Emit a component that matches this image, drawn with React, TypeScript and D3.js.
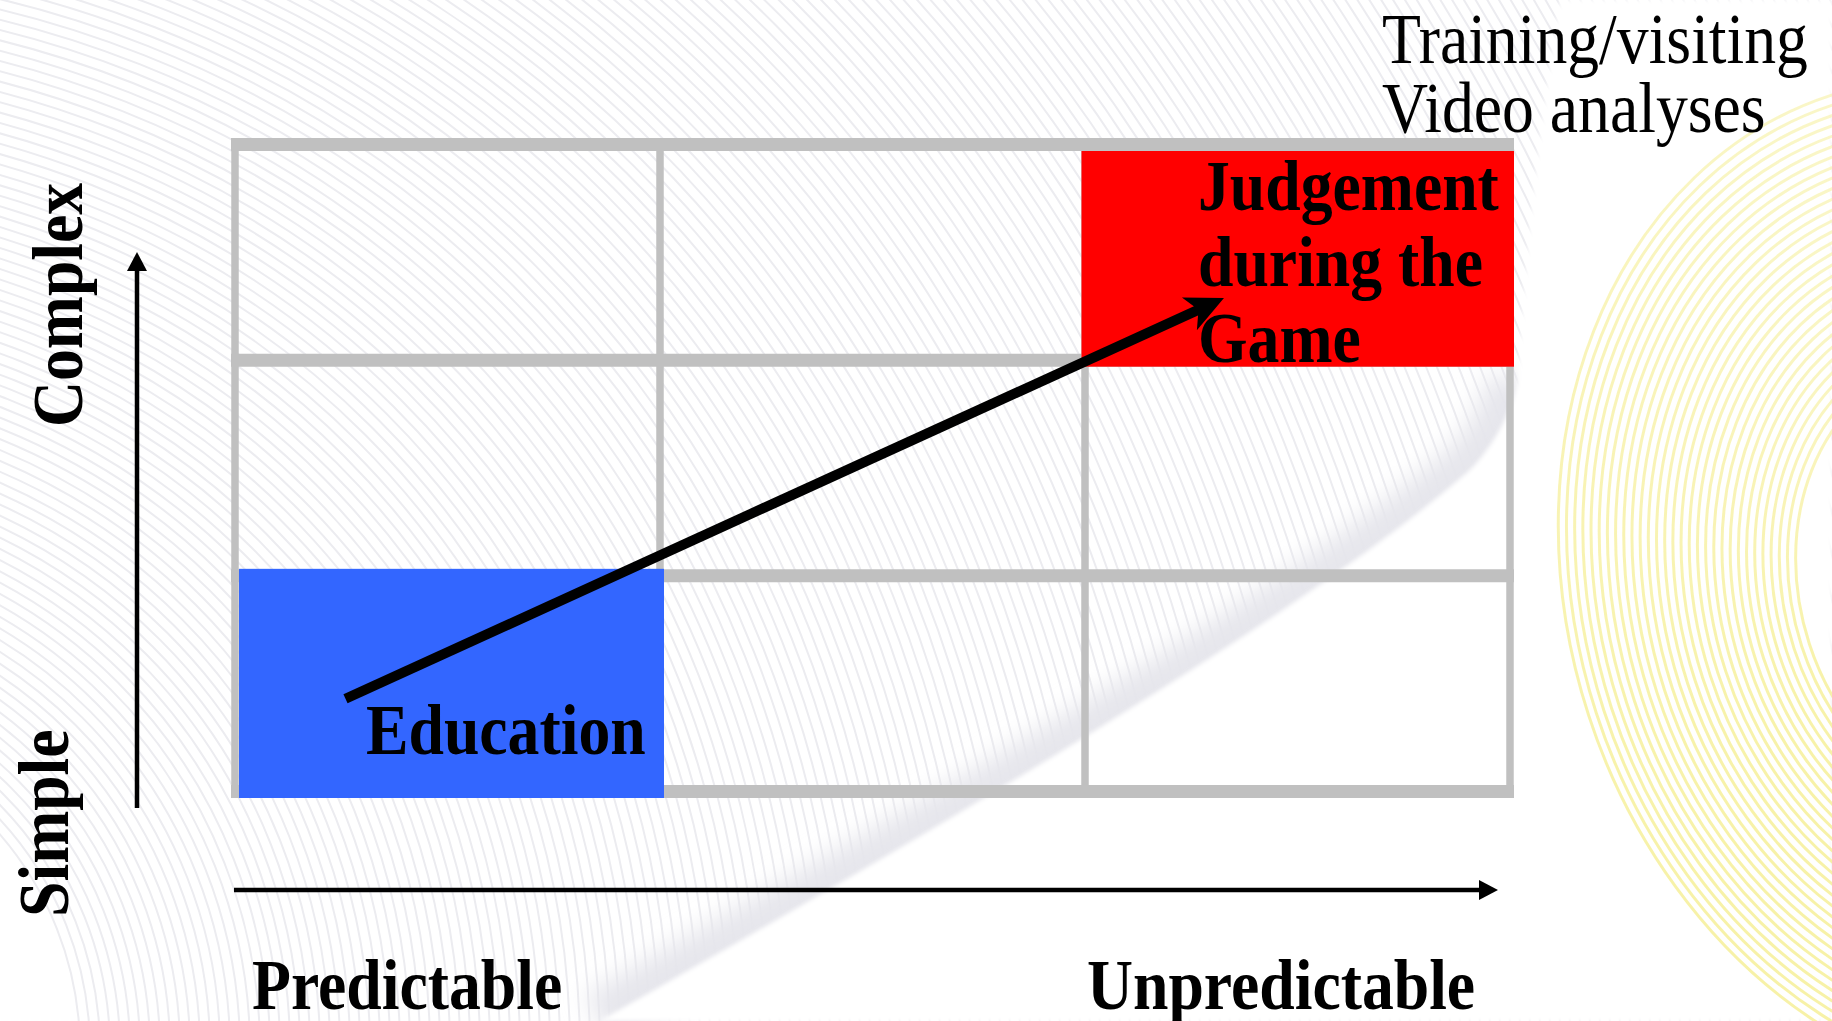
import React from "react";
import * as d3 from "d3";

const W = 1832;
const H = 1021;

// 3 x 3 matrix: predictability (columns) against complexity (rows)
const columnBounds = [0, 1, 2, 3];
const rowBounds = [0, 1, 2, 3];

const predictabilityLabels = ["Predictable", "Unpredictable"];
const complexityLabels = ["Simple", "Complex"];
const methodLabels = ["Training/visiting", "Video analyses"];

// highlighted cells (column index, row index counted from the bottom)
const highlightCols = [0, 2];
const highlightRows = [0, 2];
const highlightFills = ["#3366ff", "#ff0000"];
const educationLines = ["Education"];
const judgementLines = ["Judgement", "during the", "Game"];

// development path through the matrix, in cell units
const pathFrom = [0.26, 0.43];
const pathTo = [2.327, 2.288];

const FONT = "'Times New Roman', 'Liberation Serif', serif";
const SQUEEZE = 0.885;
const GRID = "#c0c0c0";

export default function App() {
  const x = d3.scaleLinear().domain([0, 3]).range([235, 1510]);
  const y = d3.scaleLinear().domain([0, 3]).range([791.5, 144.5]);

  // decorative background rings
  const greyRings = d3.range(330, 2400, 10);
  const yellowRings = d3.range(190, 430, 8);

  const swoosh = "M 600 1021 C 900 850, 1300 620, 1470 470 C 1495 445, 1512 410, 1518 380";
  const edge = `${swoosh} C 1525 250, 1540 120, 1560 0`;

  const cellRect = (c: number, r: number) => {
    const left = c === 0 ? x(0) + 4 : x(c) - 3.5;
    const right = x(c + 1) + 4;
    const top = r + 1 === 3 ? y(3) + 6.5 : y(r + 1) - 7;
    const bottom = y(r) + 6.5;
    return { left, right, top, bottom };
  };

  const [sx, sy] = [x(pathFrom[0]), y(pathFrom[1])];
  const [ex, ey] = [x(pathTo[0]), y(pathTo[1])];
  const ang = Math.atan2(ey - sy, ex - sx);
  const len = Math.hypot(ex - sx, ey - sy);
  const deg = (ang * 180) / Math.PI;

  const label = (
    text: string,
    tx: number,
    ty: number,
    bold: boolean,
    key: string,
    rotate = 0
  ) => (
    <text
      key={key}
      transform={`translate(${tx},${ty}) rotate(${rotate}) scale(${SQUEEZE},1)`}
      fontFamily={FONT}
      fontSize={72}
      fontWeight={bold ? "bold" : "normal"}
      fill="#000"
    >
      {text}
    </text>
  );

  const axisY = { x: 137, y0: 808, tip: 252 };
  const axisX = { y: 890, x0: 234, tip: 1498 };

  return (
    <svg
      width={W}
      height={H}
      viewBox={`0 0 ${W} ${H}`}
      style={{ position: "absolute", left: 0, top: 0, display: "block" }}
    >
      <defs>
        <filter id="soft" x="-20%" y="-20%" width="140%" height="140%">
          <feGaussianBlur stdDeviation="12" />
        </filter>
        <filter id="softEdge" x="-5%" y="-5%" width="110%" height="110%">
          <feGaussianBlur stdDeviation="2" />
        </filter>
        <linearGradient id="yellowGrad" x1="0" y1="1" x2="1" y2="0">
          <stop offset="0" stopColor="#f4ec80" />
          <stop offset="1" stopColor="#faf6c8" />
        </linearGradient>
      </defs>

      <rect width={W} height={H} fill="#ffffff" />

      {/* background texture */}
      <g fill="none" stroke="#ececf0" strokeWidth={2}>
        {greyRings.map((r) => (
          <circle key={r} cx={-250} cy={1050} r={r} />
        ))}
      </g>
      <path d={swoosh} fill="none" stroke="#e6e6ec" strokeWidth={60} filter="url(#soft)" />
      <path d={`${edge} L ${W} 0 L ${W} ${H} Z`} fill="#ffffff" filter="url(#softEdge)" />
      <g
        fill="none"
        stroke="url(#yellowGrad)"
        strokeWidth={3}
        opacity={0.75}
        transform="translate(1990,585) rotate(-18)"
      >
        {yellowRings.map((r) => (
          <ellipse key={r} cx={0} cy={0} rx={r} ry={r * 1.22} />
        ))}
      </g>

      {/* matrix grid */}
      <g stroke={GRID}>
        {rowBounds.map((r) => (
          <line key={`h${r}`} x1={x(0) - 4} x2={x(3) + 4} y1={y(r)} y2={y(r)} strokeWidth={13} />
        ))}
        {columnBounds.map((c) => (
          <line key={`v${c}`} x1={x(c)} x2={x(c)} y1={y(3) - 6.5} y2={y(0) + 6.5} strokeWidth={7.5} />
        ))}
      </g>

      {/* highlighted cells */}
      {highlightCols.map((c, i) => {
        const b = cellRect(c, highlightRows[i]);
        return (
          <rect
            key={`cell${i}`}
            x={b.left}
            y={b.top}
            width={b.right - b.left}
            height={b.bottom - b.top}
            fill={highlightFills[i]}
          />
        );
      })}

      {/* development arrow */}
      <g transform={`translate(${sx},${sy}) rotate(${deg})`}>
        <line x1={0} y1={0} x2={len - 26} y2={0} stroke="#000" strokeWidth={10} />
        <path
          d={`M ${len} 0 L ${len - 38} -18 L ${len - 28} 0 L ${len - 38} 18 Z`}
          fill="#000"
        />
      </g>

      {/* axis arrows */}
      <line x1={axisY.x} x2={axisY.x} y1={axisY.y0} y2={axisY.tip + 16} stroke="#000" strokeWidth={4.5} />
      <path
        d={`M ${axisY.x} ${axisY.tip} L ${axisY.x - 10} ${axisY.tip + 19} L ${axisY.x + 10} ${axisY.tip + 19} Z`}
        fill="#000"
      />
      <line x1={axisX.x0} x2={axisX.tip - 16} y1={axisX.y} y2={axisX.y} stroke="#000" strokeWidth={4.5} />
      <path
        d={`M ${axisX.tip} ${axisX.y} L ${axisX.tip - 19} ${axisX.y - 10} L ${axisX.tip - 19} ${axisX.y + 10} Z`}
        fill="#000"
      />

      {/* cell labels */}
      {educationLines.map((t, i) => label(t, x(0) + 131, y(0) - 38 + i * 76, true, `ed${i}`))}
      {judgementLines.map((t, i) => label(t, x(2) + 113, y(3) + 65.5 + i * 76, true, `jg${i}`))}

      {/* axis labels */}
      {label(predictabilityLabels[0], x(0) + 17, 1009, true, "px0")}
      {label(predictabilityLabels[1], x(2) + 2, 1009, true, "px1")}
      {label(complexityLabels[0], 68, 917, true, "cy0", -90)}
      {label(complexityLabels[1], 82, 427, true, "cy1", -90)}

      {/* methods */}
      {methodLabels.map((t, i) => label(t, 1382, 63 + i * 69, false, `m${i}`))}
    </svg>
  );
}
